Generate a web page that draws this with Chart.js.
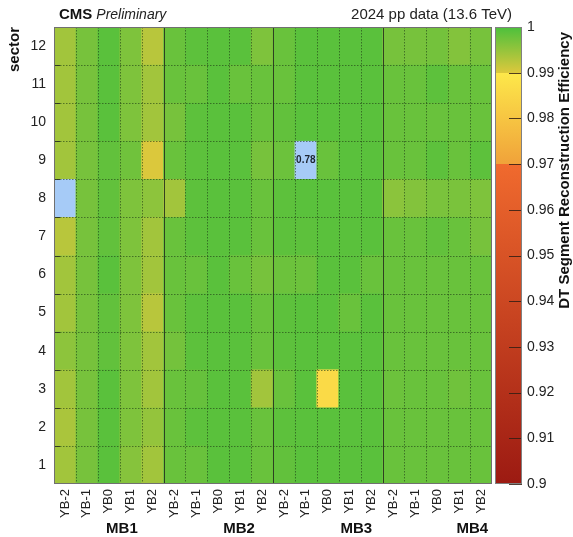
<!DOCTYPE html>
<html>
<head>
<meta charset="utf-8">
<title>DT Segment Reconstruction Efficiency</title>
<script src="https://cdn.jsdelivr.net/npm/chart.js@4.4.1/dist/chart.umd.min.js"></script>
<style>
  html, body { margin: 0; padding: 0; background: #fff; }
  #wrap { position: relative; width: 573px; height: 537px; }
  #wrap canvas { position: absolute; left: 0; top: 0; }
</style>
</head>
<body>
<div id="wrap">
  <canvas id="effChart" width="573" height="537"></canvas>
  <canvas id="paletteChart" width="573" height="537"></canvas>
</div>
<script>
// categories
const wheels = ['YB-2', 'YB-1', 'YB0', 'YB1', 'YB2'];
const stations = ['MB1', 'MB2', 'MB3', 'MB4'];
const sectors = [1, 2, 3, 4, 5, 6, 7, 8, 9, 10, 11, 12];

// efficiency, one row per sector (1..12), columns YB-2 .. YB2
// 0 = no measurement (drawn as underflow, no label)
const effMB1 = [
    [0.994,  0.997, 0.999,  0.996,  0.994],
    [0.9935, 0.997, 0.999,  0.9965, 0.995],
    [0.994,  0.997, 0.999,  0.9965, 0.994],
    [0.9955, 0.997, 0.9985, 0.9965, 0.994],
    [0.994,  0.997, 0.9985, 0.9965, 0.9925],
    [0.994,  0.997, 0.999,  0.9965, 0.994],
    [0.9925, 0.997, 0.9985, 0.9965, 0.994],
    [0,      0.997, 0.9985, 0.9965, 0.9955],
    [0.994,  0.997, 0.9985, 0.9975, 0.9901],
    [0.994,  0.997, 0.999,  0.9965, 0.994],
    [0.994,  0.997, 0.999,  0.9965, 0.994],
    [0.994,  0.997, 0.999,  0.9965, 0.9925]
];
const effMB2 = [
    [0.998,  0.998,  0.999, 0.999,  0.998],
    [0.998,  0.9988, 0.999, 0.999,  0.998],
    [0.998,  0.9982, 0.999, 0.999,  0.994],
    [0.9972, 0.9988, 0.999, 0.999,  0.998],
    [0.998,  0.9988, 0.999, 0.999,  0.998],
    [0.998,  0.998,  0.999, 0.998,  0.997],
    [0.998,  0.9988, 0.999, 0.999,  0.998],
    [0.994,  0.9988, 0.999, 0.999,  0.998],
    [0.998,  0.9988, 0.999, 0.999,  0.997],
    [0.997,  0.9988, 0.999, 0.999,  0.998],
    [0.998,  0.998,  0.999, 0.998,  0.998],
    [0.998,  0.9988, 0.999, 0.999,  0.9965]
];
const effMB3 = [
    [0.9985, 0.999,  0.999,  0.999,  0.999],
    [0.9988, 0.999,  0.999,  0.999,  0.999],
    [0.998,  0.999,  0.986,  0.999,  0.999],
    [0.9988, 0.999,  0.999,  0.999,  0.999],
    [0.9988, 0.999,  0.999,  0.998,  0.999],
    [0.9978, 0.9978, 0.999,  0.999,  0.998],
    [0.9988, 0.9988, 0.999,  0.999,  0.999],
    [0.9988, 0.999,  0.999,  0.999,  0.999],
    [0.9978, 0.78,   0.998,  0.999,  0.999],
    [0.9985, 0.999,  0.999,  0.999,  0.999],
    [0.998,  0.999,  0.999,  0.999,  0.999],
    [0.998,  0.999,  0.999,  0.999,  0.999]
];
const effMB4 = [
    [0.998,  0.998,  0.998,  0.998,  0.998],
    [0.998,  0.998,  0.998,  0.998,  0.998],
    [0.9978, 0.998,  0.998,  0.9975, 0.998],
    [0.998,  0.998,  0.998,  0.998,  0.998],
    [0.998,  0.998,  0.998,  0.998,  0.998],
    [0.998,  0.998,  0.998,  0.998,  0.998],
    [0.998,  0.998,  0.9985, 0.998,  0.997],
    [0.9956, 0.9962, 0.9968, 0.9968, 0.9965],
    [0.998,  0.998,  0.9988, 0.998,  0.9988],
    [0.998,  0.998,  0.998,  0.998,  0.998],
    [0.998,  0.998,  0.9988, 0.998,  0.998],
    [0.997,  0.997,  0.9972, 0.9962, 0.997]
];

// colour axis
const paletteMin = 0.9;
const paletteMax = 1.0;
const paletteTicks = [0.9, 0.91, 0.92, 0.93, 0.94, 0.95, 0.96, 0.97, 0.98, 0.99, 1.0];
const paletteStops = [
    [0.90, [156, 26, 18]],
    [0.97, [240, 106, 46]],
    [0.97, [240, 162, 58]],
    [0.99, [253, 232, 74]],
    [0.99, [220, 200, 60]],
    [1.00, [76, 192, 60]]
];
const underflowColor = '#a6cbf7';

const fontFamily = '"Liberation Sans", Arial, Helvetica, sans-serif';
Chart.defaults.font.family = fontFamily;

function rgbStr(c) {
    return 'rgb(' + c.map(Math.round).join(',') + ')';
}

function effColor(v) {
    if (v < paletteMin) return underflowColor;
    for (let i = paletteStops.length - 2; i >= 0; i--) {
        const a = paletteStops[i], b = paletteStops[i + 1];
        if (b[0] > a[0] && v >= a[0]) {
            const t = Math.min(1, (v - a[0]) / (b[0] - a[0]));
            return rgbStr(a[1].map((c, k) => c + (b[1][k] - c) * t));
        }
    }
    return rgbStr(paletteStops[0][1]);
}

const effByStation = [effMB1, effMB2, effMB3, effMB4];
const columnLabels = stations.flatMap(() => wheels);

const datasets = sectors.map((s, si) => {
    const vals = effByStation.flatMap(st => st[si]);
    return {
        label: 'sector ' + s,
        data: vals.map(() => [s - 1, s]),
        eff: vals,
        backgroundColor: vals.map(effColor),
        borderWidth: 0,
        grouped: false,
        barPercentage: 1,
        categoryPercentage: 1
    };
});

// grid, frame, labels and captions
const decorPlugin = {
    id: 'decor',
    afterDatasetsDraw(chart) {
        const ctx = chart.ctx;
        const { left, right, top, bottom } = chart.chartArea;
        const xs = chart.scales.x, ys = chart.scales.y;
        const nCols = columnLabels.length;
        const colW = (right - left) / nCols;

        ctx.save();
        ctx.lineWidth = 1;
        // dotted cell grid
        ctx.setLineDash([1.5, 1.5]);
        ctx.strokeStyle = 'rgba(30, 60, 20, 0.6)';
        for (let i = 1; i < nCols; i++) {
            if (i % wheels.length === 0) continue;
            const px = Math.round(xs.getPixelForValue(i) - colW / 2) + 0.5;
            ctx.beginPath(); ctx.moveTo(px, top); ctx.lineTo(px, bottom); ctx.stroke();
        }
        for (let s = 1; s < sectors.length; s++) {
            const py = Math.round(ys.getPixelForValue(s)) + 0.5;
            ctx.beginPath(); ctx.moveTo(left, py); ctx.lineTo(right, py); ctx.stroke();
        }
        // station separators
        ctx.setLineDash([]);
        ctx.strokeStyle = 'rgba(40, 50, 30, 0.9)';
        for (let i = wheels.length; i < nCols; i += wheels.length) {
            const px = Math.round(xs.getPixelForValue(i) - colW / 2) + 0.5;
            ctx.beginPath(); ctx.moveTo(px, top); ctx.lineTo(px, bottom); ctx.stroke();
        }
        // axis ticks on the left edge
        ctx.strokeStyle = 'rgba(40, 50, 30, 0.9)';
        for (let s = 1; s < sectors.length; s++) {
            const py = Math.round(ys.getPixelForValue(s)) + 0.5;
            ctx.beginPath(); ctx.moveTo(left, py); ctx.lineTo(left + 6, py); ctx.stroke();
        }
        // frame
        ctx.strokeStyle = '#707070';
        ctx.strokeRect(Math.round(left) + 0.5, Math.round(top) + 0.5,
            Math.round(right - left) - 1, Math.round(bottom - top) - 1);

        // values of cells below the colour range
        ctx.font = 'bold 10px ' + fontFamily;
        ctx.fillStyle = '#1c2430';
        ctx.textAlign = 'center';
        ctx.textBaseline = 'middle';
        chart.data.datasets.forEach((ds, si) => {
            ds.eff.forEach((v, ci) => {
                if (v > 0 && v < paletteMin) {
                    ctx.fillText(v.toFixed(2), xs.getPixelForValue(ci), ys.getPixelForValue(sectors[si] - 0.5));
                }
            });
        });

        // station labels under the wheel labels
        ctx.font = 'bold 15px ' + fontFamily;
        ctx.fillStyle = '#111';
        const stationPos = [3.1, 8.45, 13.8, 19.1];
        stations.forEach((st, i) => {
            ctx.fillText(st, left + colW * stationPos[i], 529);
        });

        // captions
        ctx.textAlign = 'left';
        ctx.font = 'bold 15px ' + fontFamily;
        ctx.fillText('CMS', 59, 15);
        const w = ctx.measureText('CMS').width;
        ctx.font = 'italic 14px ' + fontFamily;
        ctx.fillStyle = '#222';
        ctx.fillText('Preliminary', 59 + w + 4, 15);
        ctx.textAlign = 'right';
        ctx.font = '15px ' + fontFamily;
        ctx.fillText('2024 pp data (13.6 TeV)', 512, 15);
        ctx.restore();
    }
};

new Chart(document.getElementById('effChart'), {
    type: 'bar',
    data: { labels: columnLabels, datasets: datasets },
    options: {
        responsive: false,
        animation: false,
        layout: { padding: { top: 27, right: 81, left: 0, bottom: 0 } },
        plugins: {
            legend: { display: false },
            tooltip: { enabled: false }
        },
        scales: {
            x: {
                type: 'category',
                offset: true,
                grid: { display: false, drawTicks: false },
                border: { display: false },
                ticks: {
                    autoSkip: false,
                    maxRotation: 90,
                    minRotation: 90,
                    padding: 5,
                    color: '#222',
                    font: { size: 13 }
                },
                afterFit: s => { s.height = 53; }
            },
            y: {
                type: 'linear',
                min: 0,
                max: 12,
                grid: { display: false, drawTicks: false },
                border: { display: false },
                afterBuildTicks: s => { s.ticks = sectors.map(v => ({ value: v - 0.5 })); },
                ticks: {
                    padding: 8,
                    color: '#222',
                    font: { size: 14 },
                    callback: v => String(Math.round(v + 0.5))
                },
                title: {
                    display: true,
                    text: 'sector',
                    align: 'end',
                    color: '#111',
                    padding: { top: 6, bottom: 0 },
                    font: { size: 15, weight: 'bold' }
                },
                afterFit: s => { s.width = 54; }
            }
        }
    },
    plugins: [decorPlugin]
});

// colour bar
function paletteGradient(chart) {
    const area = chart.chartArea;
    if (!area) return null;
    const g = chart.ctx.createLinearGradient(0, area.bottom, 0, area.top);
    paletteStops.forEach(([v, c]) => {
        g.addColorStop((v - paletteMin) / (paletteMax - paletteMin), rgbStr(c));
    });
    return g;
}

const paletteDecor = {
    id: 'paletteDecor',
    afterDatasetsDraw(chart) {
        const ctx = chart.ctx;
        const { left, right, top, bottom } = chart.chartArea;
        const ys = chart.scales.y;
        ctx.save();
        ctx.lineWidth = 1;
        ctx.strokeStyle = 'rgba(50, 30, 20, 0.85)';
        paletteTicks.forEach(v => {
            const py = Math.round(ys.getPixelForValue(v)) + 0.5;
            ctx.beginPath(); ctx.moveTo(right - 13, py); ctx.lineTo(right, py); ctx.stroke();
        });
        ctx.strokeStyle = '#808080';
        ctx.strokeRect(Math.round(left) + 0.5, Math.round(top) + 0.5,
            Math.round(right - left) - 1, Math.round(bottom - top) - 1);

        ctx.translate(565, 32);
        ctx.rotate(-Math.PI / 2);
        ctx.font = 'bold 15px ' + fontFamily;
        ctx.fillStyle = '#111';
        ctx.textAlign = 'right';
        ctx.textBaseline = 'middle';
        ctx.fillText('DT Segment Reconstruction Efficiency', 0, 0);
        ctx.restore();
    }
};

new Chart(document.getElementById('paletteChart'), {
    type: 'bar',
    data: {
        labels: ['efficiency'],
        datasets: [{
            data: [[paletteMin, paletteMax]],
            backgroundColor: c => paletteGradient(c.chart),
            borderWidth: 0,
            barPercentage: 1,
            categoryPercentage: 1
        }]
    },
    options: {
        responsive: false,
        animation: false,
        layout: { padding: { left: 495, top: 27, bottom: 53, right: 0 } },
        plugins: {
            legend: { display: false },
            tooltip: { enabled: false }
        },
        scales: {
            x: { display: false },
            y: {
                position: 'right',
                min: paletteMin,
                max: paletteMax,
                grid: { display: false, drawTicks: false },
                border: { display: false },
                afterBuildTicks: s => { s.ticks = paletteTicks.map(v => ({ value: v })); },
                ticks: {
                    padding: 5,
                    color: '#222',
                    font: { size: 14 },
                    callback: v => String(Number(v.toFixed(2)))
                },
                afterFit: s => { s.width = 51; }
            }
        }
    },
    plugins: [paletteDecor]
});
</script>
</body>
</html>
